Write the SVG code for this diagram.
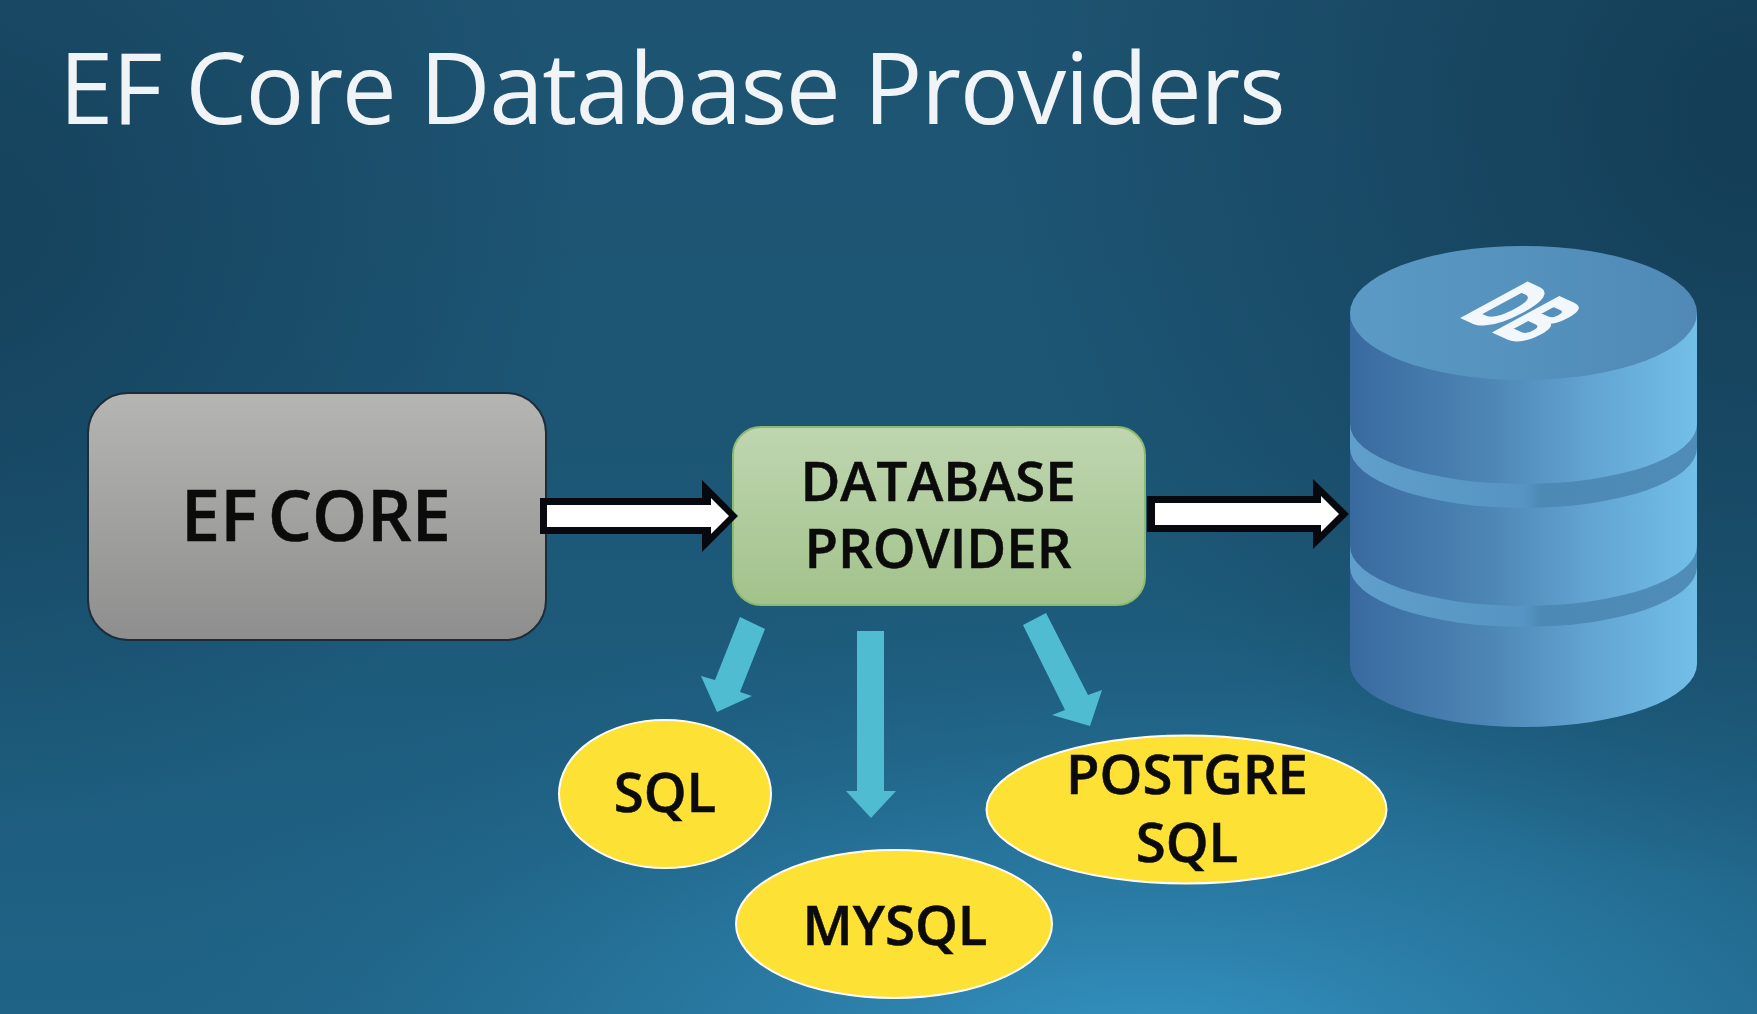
<svg xmlns="http://www.w3.org/2000/svg" width="1757" height="1014" viewBox="0 0 1757 1014">
<style>
.lbl{font-family:"Open Sans","Noto Sans","Liberation Sans",sans-serif;font-weight:600;fill:#0b0b0b;stroke:#0b0b0b;stroke-width:0.500;text-anchor:middle;font-size:54.500px}
.oval{fill:#fde135;stroke:#fff;stroke-width:2}
.blk{fill:#07090e}
.wht{fill:#fff}
.teal{fill:#4fbcd2}
</style>
<defs>
<linearGradient id="bgBase" x1="0" y1="0" x2="0" y2="1"><stop offset="0" stop-color="#1e5472"/><stop offset="0.45" stop-color="#1c5675"/><stop offset="1" stop-color="#1f6386"/></linearGradient>
<radialGradient id="bgGlow" gradientUnits="userSpaceOnUse" cx="1150" cy="1060" r="950" gradientTransform="translate(1150 1060) scale(1.15 0.5) translate(-1150 -1060)"><stop offset="0" stop-color="#3595c4" stop-opacity="1"/><stop offset="0.5" stop-color="#2a7ca6" stop-opacity="0.65"/><stop offset="1" stop-color="#1f6284" stop-opacity="0"/></radialGradient>
<radialGradient id="bgDark" gradientUnits="userSpaceOnUse" cx="1757" cy="120" r="760"><stop offset="0" stop-color="#133b54" stop-opacity="0.95"/><stop offset="1" stop-color="#143d56" stop-opacity="0"/></radialGradient>
<radialGradient id="bgDarkL" gradientUnits="userSpaceOnUse" cx="-40" cy="220" r="620"><stop offset="0" stop-color="#143f59" stop-opacity="0.9"/><stop offset="1" stop-color="#143f59" stop-opacity="0"/></radialGradient>
<linearGradient id="gray" x1="0" y1="0" x2="0" y2="1"><stop offset="0" stop-color="#b5b5b2"/><stop offset="1" stop-color="#8e8e8e"/></linearGradient>
<linearGradient id="green" x1="0" y1="0" x2="0" y2="1"><stop offset="0" stop-color="#bfd6b0"/><stop offset="1" stop-color="#a2c28b"/></linearGradient>
<linearGradient id="cyl" x1="0" y1="0" x2="1" y2="0"><stop offset="0" stop-color="#396a9f"/><stop offset="0.4" stop-color="#4d86b5"/><stop offset="0.7" stop-color="#63a5d3"/><stop offset="1" stop-color="#72bfe8"/></linearGradient>
<linearGradient id="band" x1="0" y1="0" x2="1" y2="0"><stop offset="0" stop-color="#609fcb"/><stop offset="0.5" stop-color="#5695c3"/><stop offset="0.55" stop-color="#4c89b5"/><stop offset="1" stop-color="#4f8cb8"/></linearGradient>
<linearGradient id="cap" x1="0" y1="0" x2="1" y2="0"><stop offset="0" stop-color="#5a9ac5"/><stop offset="1" stop-color="#5089b6"/></linearGradient>
</defs>
<g id="background">
<rect width="1757" height="1014" fill="url(#bgBase)"/>
<rect width="1757" height="1014" fill="url(#bgGlow)"/>
<rect width="1757" height="1014" fill="url(#bgDark)"/>
<rect width="1757" height="1014" fill="url(#bgDarkL)"/>
</g>
<text id="title" x="59" y="124" font-family="'Open Sans','Noto Sans',sans-serif" font-weight="400" font-size="98" letter-spacing="-1.400" fill="#f0f4f6">EF Core Database Providers</text>
<g id="node-ef-core">
<rect x="88" y="393" width="458" height="247" rx="40" fill="url(#gray)" stroke="#1c2c38" stroke-width="2"/>
<text class="lbl" x="316" y="541" style="font-size:70px" word-spacing="-8">EF CORE</text>
</g>
<g id="node-database-provider">
<rect x="733" y="427" width="412" height="178" rx="28" fill="url(#green)" stroke="#8cba6e" stroke-width="2"/>
<text class="lbl" x="938" y="501">DATABASE</text>
<text class="lbl" x="938" y="568">PROVIDER</text>
</g>
<g id="node-sql">
<ellipse class="oval" cx="665" cy="794" rx="106" ry="74"/>
<text class="lbl" x="665" y="812">SQL</text>
</g>
<g id="node-mysql">
<ellipse class="oval" cx="894" cy="924" rx="158" ry="74"/>
<text class="lbl" x="895" y="945">MYSQL</text>
</g>
<g id="node-postgresql">
<ellipse class="oval" cx="1186.500" cy="809.500" rx="200" ry="74"/>
<text class="lbl" x="1187" y="794">POSTGRE</text>
<text class="lbl" x="1187" y="862">SQL</text>
</g>
<g id="node-db">
<path d="M1350 567 V664 A173.500 63 0 0 0 1697 664 V567 Z" fill="url(#cyl)"/>
<path d="M1350 530 V567 A173.500 60 0 0 0 1697 567 V530 Z" fill="url(#band)"/>
<path d="M1350 424 V546 A173.500 60 0 0 0 1697 546 V424 Z" fill="url(#cyl)"/>
<path d="M1350 410 V448 A173.500 60 0 0 0 1697 448 V410 Z" fill="url(#band)"/>
<path d="M1350 313 V424 A173.500 60 0 0 0 1697 424 V313 Z" fill="url(#cyl)"/>
<ellipse cx="1523.500" cy="313" rx="173.500" ry="67" fill="url(#cap)"/>
<text transform="matrix(0.88 0.4 -1.85 1 1460 316)" font-family="'Liberation Sans',sans-serif" font-weight="700" font-size="50" fill="#f2f7fb" stroke="#f2f7fb" stroke-width="2">DB</text>
</g>
<g id="connectors">
<g id="arrow-ef-provider">
<polygon class="blk" points="540,498 702,498 702,480 738,516 702,552 702,534 540,534"/>
<polygon class="wht" points="547,505 711,505 711,498 729,516 711,534 711,527 547,527"/>
</g>
<g id="arrow-provider-db">
<polygon class="blk" points="1147,496 1313,496 1313,479 1349,514 1313,549 1313,532 1147,532"/>
<polygon class="wht" points="1155,503 1321,503 1321,496 1339,514 1321,532 1321,525 1155,525"/>
</g>
<polygon id="arrow-sql" class="teal" points="740,617 765,629 740,692 752,696 717,712 701,676 715,680"/>
<polygon id="arrow-mysql" class="teal" points="857,631 884,631 884,791 896,791 871,818 846,791 857,791"/>
<polygon id="arrow-postgre" class="teal" points="1023,625 1046,613 1088,695 1102,690 1090,726 1052,715 1065,710"/>
</g>
</svg>
